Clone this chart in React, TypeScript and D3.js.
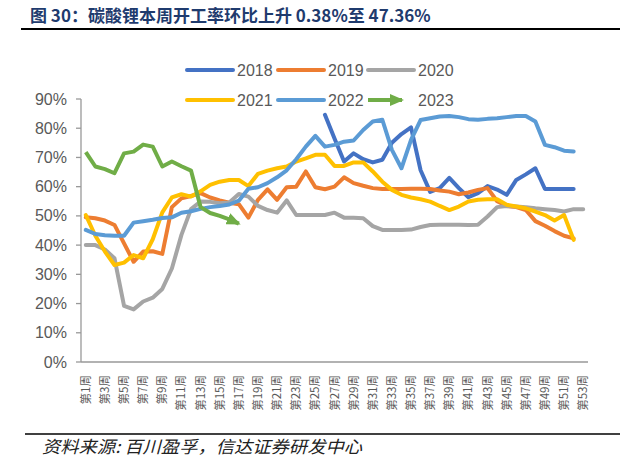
import React from "react";
import * as d3 from "d3";

const weeks: string[] = Array.from({ length: 53 }, (_, i) => `第${i + 1}周`);
const yTicks: number[] = [0, 10, 20, 30, 40, 50, 60, 70, 80, 90];
const seriesNames: string[] = ["2018", "2019", "2020", "2021", "2022", "2023"];
const seriesColors: string[] = ["#4472C4", "#ED7D31", "#A5A5A5", "#FFC000", "#5B9BD5", "#70AD47"];

const N = null;
const s2018: (number | null)[] = [
  N, N, N, N, N, N, N, N, N, N, N, N, N, N, N, N, N, N, N, N, N, N, N, N, N,
  84.6, 76.5, 68.6, 71.4, 69.4, 68.3, 69.2, 75, 78, 80.3, 65.6, 58.2, 59.5, 63, 59.5,
  56.4, 57.8, 60.2, 59, 57.2, 62.3, 64.2, 66.3, 59.2, 59.2, 59.2, 59.2, N,
];
const s2019: (number | null)[] = [
  49.5, 49.2, 48.4, 46.9, 40.6, 34.3, 37.8, 37.9, 37, 53, 56, 56.8, 57.8, 56.3, 55.3, 54.5, 54,
  49.4, 55.5, 59.1, 55.5, 59.8, 60, 65.2, 59.8, 59.1, 60, 63.2, 61.2, 60.3, 59.5, 59.2, 59.2,
  59.2, 59.3, 59.3, 59.2, 58.7, 58.3, 57.4, 58, 58.9, 59.5, 55, 53.4, 53, 52, 48.2, 46.6, 44.8,
  43.2, 42.3, N,
];
const s2020: (number | null)[] = [
  40, 40, 38.5, 35.5, 19.2, 18, 20.7, 22, 25, 32, 43.5, 52.3, 54.9, 54.8, 54.3, 54.6, 57.5,
  56.6, 53.4, 52, 51.1, 55.3, 50.3, 50.3, 50.3, 50.3, 51.1, 49.4, 49.4, 49.2, 46.5, 45.2, 45.2,
  45.2, 45.3, 46.2, 46.9, 47, 47, 47, 46.9, 47, 49.8, 53, 53.4, 53.2, 53, 52.6, 52.3, 52, 51.5,
  52.3, 52.3,
];
const s2021: (number | null)[] = [
  50.3, 43.2, 37.8, 33.2, 34, 36.6, 35.5, 42, 51.2, 56.3, 57.4, 56.6, 58.4, 60.6, 61.7, 62.3,
  62.3, 60.2, 64.4, 65.5, 66.3, 66.9, 68.6, 69.7, 70.9, 70.9, 67.1, 67.1, 68.3, 68.3, 65.2, 61.7,
  58.9, 57.2, 56.3, 55.7, 54.9, 53.4, 52, 53.2, 54.9, 55.5, 55.7, 55.7, 53.8, 53.2, 52.6, 51.5,
  50.3, 48.4, 50.3, 41.8, N,
];
const s2022: (number | null)[] = [
  45.2, 43.8, 43.4, 43.2, 43.2, 47.7, 48.2, 48.7, 49.3, 49.5, 51.1, 51.6, 52.4, 53, 53.4, 53.9,
  55.2, 59.3, 59.8, 61.2, 63.2, 65.6, 69.4, 73.7, 77.4, 73.7, 74.3, 75.4, 75.8, 79.4, 82.3, 82.9,
  72.6, 66.3, 76, 82.8, 83.4, 84, 84.2, 83.8, 83.1, 82.9, 83.2, 83.4, 83.8, 84.2, 84.2, 82.3,
  74.3, 73.5, 72.3, 72, N,
];
const s2023: (number | null)[] = [
  71.8, 66.9, 66, 64.6, 71.4, 72, 74.4, 73.7, 66.9, 68.6, 67, 65.5, 53, 51, 50, 48.8, 47.36,
  N, N, N, N, N, N, N, N, N, N, N, N, N, N, N, N, N, N, N, N, N, N, N, N, N, N, N, N, N, N, N,
  N, N, N, N, N,
];
const allSeries = [s2018, s2019, s2020, s2021, s2022, s2023];

const title = "图 30：碳酸锂本周开工率环比上升 0.38%至 47.36%";
const source = "资料来源: 百川盈孚，信达证券研发中心";

export default function App() {
  const W = 640;
  const H = 461;
  const x = d3.scalePoint<string>().domain(weeks).range([81, 588]).padding(0.5);
  const y = d3.scaleLinear().domain([0, 90]).range([362, 99]);
  const line = d3
    .line<number | null>()
    .defined((d) => d != null)
    .x((_, i) => x(weeks[i]) as number)
    .y((d) => y(d as number));

  const legendRows = [
    { y: 70, items: [0, 1, 2] },
    { y: 100, items: [3, 4, 5] },
  ];
  const legendX = [187, 278, 368];
  const font = "'Liberation Sans', Arial, sans-serif";

  return (
    <svg width={W} height={H} style={{ position: "absolute", left: 0, top: 0, background: "#fff" }}>
      <defs>
        <marker id="arrow" viewBox="0 0 14 12" refX="12" refY="6" markerWidth="14" markerHeight="12" markerUnits="userSpaceOnUse" orient="auto">
          <path d="M0,0 L14,6 L0,12 Z" fill="#70AD47" />
        </marker>
      </defs>
      <text x={30} y={22} fontFamily="'Noto Sans CJK SC', sans-serif" fontWeight="bold" fontSize={17} fill="#1F3B6E">
        {title}
      </text>
      <line x1={21} x2={620} y1={29} y2={29} stroke="#000" strokeWidth={2} />

      {/* legend */}
      {legendRows.map((row) =>
        row.items.map((si, k) => (
          <g key={si}>
            <line
              x1={legendX[k]}
              x2={si === 5 ? legendX[k] + 34 : legendX[k] + 46}
              y1={row.y}
              y2={row.y}
              stroke={seriesColors[si]}
              strokeWidth={4}
              strokeLinecap={si === 5 ? "butt" : "round"}
              markerEnd={si === 5 ? "url(#arrow)" : undefined}
            />
            <text x={legendX[k] + 50} y={row.y + 5.6} fontFamily={font} fontSize={16} fill="#595959">
              {seriesNames[si]}
            </text>
          </g>
        ))
      )}

      {/* y axis */}
      <line x1={81} x2={81} y1={99} y2={362} stroke="#999" strokeWidth={1.3} />
      {yTicks.map((t) => (
        <g key={t}>
          <line x1={76} x2={81} y1={y(t)} y2={y(t)} stroke="#999" strokeWidth={1.3} />
          <text x={67} y={y(t) + 5.6} textAnchor="end" fontFamily={font} fontSize={16} fill="#595959">
            {t}%
          </text>
        </g>
      ))}
      {/* x axis */}
      <line x1={81} x2={588} y1={362} y2={362} stroke="#999" strokeWidth={1.3} />
      {weeks.map((w, i) =>
        i % 2 === 0 ? (
          <text
            key={w}
            transform={`translate(${(x(w) as number) + 4},375) rotate(-90)`}
            textAnchor="end"
            fontFamily="'Noto Sans CJK SC', sans-serif"
            fontSize={11.5}
            fill="#595959"
          >
            {w}
          </text>
        ) : null
      )}

      {/* series */}
      {allSeries.map((s, i) => (
        <path
          key={seriesNames[i]}
          d={line(s) || ""}
          fill="none"
          stroke={seriesColors[i]}
          strokeWidth={4}
          strokeLinejoin="round"
          strokeLinecap={i === 5 ? "butt" : "round"}
          markerEnd={i === 5 ? "url(#arrow)" : undefined}
        />
      ))}

      <line x1={25} x2={620} y1={434} y2={434} stroke="#000" strokeWidth={1.5} />
      <text
        x={42}
        y={453}
        fontFamily="'Noto Sans CJK SC', sans-serif"
        fontStyle="italic"
        fontSize={17}
        textLength={320}
        lengthAdjust="spacingAndGlyphs"
        fill="#222"
      >
        {source}
      </text>
    </svg>
  );
}
